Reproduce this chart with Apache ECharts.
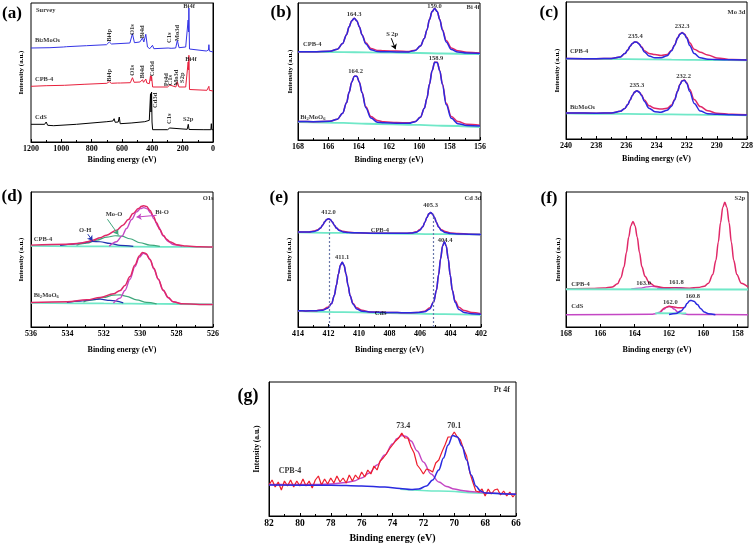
<!DOCTYPE html>
<html><head><meta charset="utf-8">
<script src="https://cdn.jsdelivr.net/npm/echarts@6/dist/echarts.min.js"></script>
<style>html,body{margin:0;padding:0;background:#fff}#c{width:756px;height:545px}</style>
</head><body><div id="c"></div>
<script>
// ---------- (a) Survey ----------
const aBiX = [1200,1075,987,976,965,834,702,684,669,548,531,518,483,465,456,443,432,417,399,390,296,285,276,246,235,224,180,172,164,161,159,155,150,44,30,27,24,0];
const aBiY = [94,94.3,95,96.7,95.3,96.3,97.3,100,98,99,108.3,99.3,100,104,100,107.7,95,93.3,96.7,93.3,94,95.7,93.7,94,101.7,94.3,95,95.5,122,110,134,93,92.3,91,92,97.3,91,90];
const aCpbX = [1200,1100,980,976,970,850,700,684,670,630,618,610,545,531,520,480,465,458,443,436,420,412,408,405,398,300,285,275,245,235,225,180,172,164,161,159,155,150,40,30,27,24,0];
const aCpbY = [55.7,56.3,56.7,57.7,56.7,57.7,58.7,60.3,58.7,59,60.7,59,59.3,64.3,59.7,60,62.3,59.7,63,59,58.3,66.3,61,65.7,55,55,57,55,55,60.3,55,55,56,80,72,86.7,52.5,52.3,51.7,52.5,55.7,51.7,51];
const aCdsX = [1200,1110,1100,1090,1050,900,700,660,652,645,625,618,612,540,450,420,412,409,405,402,398,300,285,275,170,163,158,60,14,11,8,0];
const aCdsY = [17.7,17.7,20,16.7,16.3,17.7,20.3,21,23.3,19.7,20,25,18.3,19,20.3,21.7,48.3,30,50,20,12.3,12.3,14,12.3,12.7,17.7,12.5,12.3,12.3,18.3,12.3,12.3];
const aLabels = [
 [1167,132,'Survey','l',0],[1174,102,'Bi{s|2}MoO{s|6}','l',0],[1174,63,'CPB-4','l',0],[1174,24.7,'CdS','l',0],
 [684,106.7,'Bi4p','c',90],[531,112.3,'O1s','c',90],[465,110,'Bi4d','c',90],[290,104.3,'C1s','c',90],[237,109,'Mo3d','c',90],[158,136,'Bi4f','c',0],
 [684,66.7,'Bi4p','c',90],[531,71.7,'O1s','c',90],[465,70,'Bi4d','c',90],[399,73.3,'Cd3d','c',90],[311,62.3,'Pt4d','c',90],[283,61.7,'C1s','c',90],[239,64.3,'Mo3d','c',90],[202,64.3,'S2p','c',90],[145,83,'Bi4f','c',0],
 [380,41.7,'Cd3d','c',90],[290,23.3,'C1s','c',90],[164,22.7,'S2p','c',0]
];

// ---------- (b) Bi 4f ----------
const bX = [168,167,165.9,165.4,165.06,164.8,164.63,164.46,164.29,164.12,163.95,163.78,163.53,163.19,162.76,162.34,161.5,160.69,160.27,159.93,159.67,159.5,159.33,159.16,158.99,158.82,158.65,158.48,158.23,157.89,157.46,156.87,156];
const bCpbFit = [88.5,88.5,89.0,91.0,96.7,105.6,113.4,119.6,122.0,119.5,113.3,105.3,96.4,90.5,88.6,88.4,88.3,88.3,89.8,94.2,101.8,110.3,120.7,128.7,131.8,128.7,120.5,110.1,98.3,90.6,88.1,87.1,86.8];
const bCpbRaw = [88.5,88.5,89.0,91.0,96.7,105.6,113.4,119.6,122.0,119.5,113.3,105.5,97.5,91.8,89.8,89.4,89.2,88.8,89.9,94.2,101.8,110.3,120.7,128.7,131.8,128.8,120.8,110.8,99.8,92.3,89.5,88.0,87.3];
const bBiFit = [18.5,18.4,18.7,20.9,26.8,37.3,47.8,57.9,64.0,63.9,57.7,47.4,32.3,22.0,17.9,17.2,16.9,16.8,18.4,22.7,31.7,41.9,56.0,69.4,77.8,77.7,69.2,55.6,35.5,21.7,16.4,14.6,14.0];
const bBiRaw = [18.5,18.4,18.7,20.9,26.8,37.3,47.8,57.9,64.0,63.9,57.8,47.8,33.3,23.5,19.5,18.2,17.6,17.2,18.6,22.8,31.7,41.9,56.0,69.4,77.8,77.8,69.5,56.4,37.0,23.5,18.5,15.8,14.8];
const bCyanX = [168,165,163.5,160,158.5,156];
const bCpbCyan = [88.4,88.1,87.8,87.2,86.7,86.0];
const bBiCyan = [18.0,17.2,16.3,15.2,14.3,13.0];
const bLabels = [
 [164.3,126,'164.3','c',0],[159.0,134,'159.0','c',0],[156.45,133.3,'Bi 4f','c',0],[161.79,105.7,'S 2p','c',0],
 [167.67,95.7,'CPB-4','l',0],[164.2,68.7,'164.2','c',0],[158.9,81.7,'158.9','c',0],[167.85,22.7,'Bi{s|2}MoO{s|6}','l',0]
];
const bArrows = [[161.85,102,161.57,91,'#000']];

// ---------- (c) Mo 3d ----------
const cX = [240,238,237,236.4,236.1,235.9,235.75,235.6,235.45,235.3,235.15,235.0,234.8,234.5,234.1,233.7,233.3,233.0,232.8,232.6,232.45,232.3,232.15,232.0,231.8,231.5,231.1,230.6,230,229,228];
const cCpbFit = [80.6,80.5,80.7,82.3,85.6,89.2,92.9,95.7,97.3,97.0,95.1,91.9,87.3,83.3,81.4,81.4,83.4,88.4,94.0,101.2,105.0,106.5,104.9,101.1,93.8,85.6,81.4,80.0,79.6,79.3,79.1];
const cCpbRaw = [80.6,80.5,80.7,82.3,85.6,89.2,92.9,95.7,97.3,97.0,95.3,92.5,88.5,85.8,84.6,83.6,84.6,89.0,94.3,101.4,105.2,106.7,105.3,102.0,96.5,90.0,87.0,84.3,81.3,79.6,79.2];
const cBiFit = [26.1,25.9,26.1,27.7,30.65,34.7,39.0,43.6,47.0,48.4,47.0,43.9,37.6,30.9,27.4,26.9,28.7,32.9,39.0,47.9,54.4,58.2,58.9,55.8,47.7,35.6,28.0,25.4,24.8,24.4,24.1];
const cBiRaw = [26.1,25.9,26.1,27.7,30.65,34.7,39.0,43.6,47.0,48.4,47.1,44.4,39.0,33.3,30.8,30.0,30.8,34.0,39.6,48.2,54.6,58.4,59.1,56.4,49.5,39.5,32.5,28.3,25.8,24.7,24.2];
const cCyanX = [240,236,233,230,228];
const cCpbCyan = [80.4,80.0,79.6,79.1,78.9];
const cBiCyan = [25.8,25.1,24.6,24.1,23.8];
const cLabels = [
 [235.4,102.7,'235.4','c',0],[232.3,112.7,'232.3','c',0],[228.7,126.7,'Mo 3d','c',0],[239.74,87.7,'CPB-4','l',0],
 [235.3,53.3,'235.3','c',0],[232.2,63.3,'232.2','c',0],[239.74,32,'Bi{s|2}MoO{s|6}','l',0]
];

// ---------- (d) O1s ----------
const dCpbRedX = [536,534,533.3,532.9,532.6,532.2,531.85,531.3,530.95,530.65,530.4,530.1,529.92,529.8,529.65,529.47,529.28,529.1,528.92,528.74,528.55,528.37,528,527.45,526.75,526];
const dCpbRedY = [82.3,83.3,84.3,85.7,87.3,89.7,92.3,97.3,102.3,108,114,119,121.3,122,121,117.3,111.7,104.7,98,92.3,88.3,85.7,82.7,81.3,80.7,80.3];
const dCpbBiOX = [531.7,531.3,531.0,530.75,530.47,530.2,529.98,529.8,529.61,529.43,529.25,529.0,528.74,528.46,528.19,527.7];
const dCpbBiOY = [81.3,85.7,91.3,99,108,115.7,119,120,118.7,114.7,108.7,100.7,91.7,86,83,81.3];
const dCpbMoX = [533.5,532.93,532.39,531.84,531.38,531.02,530.56,530.01,529.47,528.92];
const dCpbMoY = [82.3,84.3,87.3,90.3,91.7,91.3,88.7,84.7,82.3,81];
const dCpbOhX = [534.4,533.66,533.12,532.66,532.2,531.66,531.1,530.38];
const dCpbOhY = [82,83.3,84.7,86,85.7,84,82,81];
const dCyanX = [536,532,529,526];
const dCpbCyan = [81.5,81.0,80.6,80.2];
const dBiRedX = [536,534,532.93,532.2,531.47,531.1,530.84,530.56,530.29,530.05,529.87,529.69,529.47,529.25,529.01,528.74,528.46,528.19,527.73,526.73,526];
const dBiRedY = [24.7,25.3,27.3,29.7,33.3,36.7,41.7,50.7,62.3,71.3,75,74,68,59,48.3,37.3,29.7,25.3,23.3,22.7,22.7];
const dBiBiOX = [531.47,531.1,530.84,530.56,530.29,530.05,529.83,529.65,529.43,529.25,529.01,528.74,528.46,528.19,527.73];
const dBiBiOY = [24,29,36.7,48,60.7,70,74,73,66.7,58.3,48,36.7,29.3,25.3,23.3];
const dBiMoX = [533.12,532.57,532.02,531.47,531.1,530.74,530.2,529.65,529.1];
const dBiMoY = [25.3,27.3,29.7,32,32.3,30.7,27.3,24.7,23.3];
const dBiOhX = [534.03,533.3,532.75,532.2,531.66,530.93];
const dBiOhY = [24.7,26,27.3,28,26.7,24.3];
const dBiCyan = [24.2,23.7,23.2,22.8];
const dLabels = [
 [526.27,129.7,'O1s','c',0],[528.8,115,'Bi-O','c',0],[531.44,113,'Mo-O','c',0],[533.03,97.3,'O-H','c',0],
 [535.85,88.3,'CPB-4','l',0],[535.85,31.7,'Bi{s|2}MoO{s|6}','l',0]
];
const dArrows = [[529.1,112.3,530.2,110.5,'#c447c4'],[531.8,108.3,531.2,92.8,'#3fa77c'],[532.88,93.3,532.62,86.7,'#2233b0']];

// ---------- (e) Cd 3d ----------
const eCpbX = [414,413.8,413.3,412.95,412.7,412.52,412.38,412.25,412.12,412.0,411.88,411.75,411.62,411.48,411.3,411.05,410.7,410.2,409,408,407.5,407.1,406.6,406.25,406.0,405.82,405.68,405.55,405.42,405.3,405.18,405.05,404.92,404.78,404.6,404.35,404.0,403.5,402.8,402];
const eCpbFit = [95.4,95.4,95.45,95.95,97.3,99.55,102.5,105.7,108.1,108.9,108.05,105.6,102.4,99.4,97.0,95.6,94.95,94.7,94.35,94.2,94.2,94.2,94.4,95.2,97.3,100.8,105.3,110.0,113.75,115.0,113.7,110.0,105.1,100.6,97.0,94.9,93.9,93.6,93.3,93.1];
const eCpbRaw = [95.4,95.4,95.45,96.45,97.8,99.55,102.5,105.7,108.1,108.9,108.05,105.6,102.4,99.4,97.5,96.2,95.35,94.7,94.35,94.2,94.2,94.2,94.4,95.7,97.9,100.8,105.3,110.0,113.75,115.0,113.7,110.0,105.1,100.6,97.8,95.9,94.6,94.0,93.3,93.1];
const eCdsX = [414,413.5,412.9,412.4,412.05,411.8,411.62,411.48,411.35,411.22,411.1,410.98,410.85,410.72,410.58,410.4,410.15,409.8,409.3,408,407,406.2,405.7,405.35,405.1,404.92,404.78,404.65,404.52,404.4,404.28,404.15,404.02,403.88,403.7,403.45,403.1,402.6,402];
const eCdsFit = [16.25,16.2,16.26,16.75,18.74,23.5,31.7,42.1,53.4,62.0,65.0,61.95,53.2,41.9,31.4,23.1,18.1,15.95,15.1,14.7,14.35,14.5,15.25,18.2,25.3,37.2,52.4,68.7,81.4,85.75,81.3,68.6,52.2,36.9,24.8,17.6,14.5,13.4,12.8];
const eCdsRaw = [16.25,16.2,16.26,17.35,19.74,23.5,31.7,42.1,53.4,62.0,65.0,61.95,53.2,41.9,31.4,23.9,19.3,16.75,15.1,14.7,14.35,14.5,15.95,19.4,25.3,37.2,52.4,68.7,81.4,85.75,81.3,68.6,52.2,36.9,26.3,19.8,16.5,14.6,13.4];
const eCyanX = [414,411,408,404.4,402];
const eCpbCyan = [95.2,94.6,94.0,93.4,93.0];
const eCdsCyan = [16.0,15.0,14.0,13.0,12.3];
const eLabels = [
 [412.0,115.7,'412.0','c',0],[405.3,122.3,'405.3','c',0],[402.53,129.7,'Cd 3d','c',0],[408.63,97.3,'CPB-4','c',0],
 [411.1,70,'411.1','c',0],[404.35,87.3,'404.4','c',0],[408.58,14,'CdS','c',0]
];
const eDash = [[411.92,107.5],[405.15,113.5]];

// ---------- (f) S2p ----------
const fCpbX = [168,166.5,165.8,165.3,165.0,164.8,164.62,164.48,164.35,164.22,164.1,163.98,163.85,163.72,163.58,163.4,163.15,162.8,162.3,161.5,160.8,160.3,159.95,159.7,159.45,159.27,159.13,159.0,158.87,158.75,158.63,158.5,158.37,158.23,158.05,157.8,157.4];
const fCpbMain = [38.5,38.8,39.25,40.3,43.4,49.5,60.6,74.9,90.1,101.9,106.0,101.9,90.1,74.9,60.6,51.0,44.5,41.0,39.5,39.2,39.0,39.8,40.9,44.1,52.7,67.0,85.3,104.9,120.1,125.3,120.1,104.9,85.3,67.0,52.7,44.1,40.3];
const fSmallMagX = [164.2,163.7,163.3,163.0,162.7,162.3,161.9];
const fSmallMagY = [38.2,39.0,40.3,40.8,40.3,39.0,38.2];
const fSmallBlueX = [162.7,162.2,161.9,161.6,161.3,161.0,160.5];
const fSmallBlueY = [38.0,38.6,39.2,39.5,39.2,38.5,38.0];
const fCpbCyanX = [168,157.4];
const fCpbCyan = [37.9,37.7];
const fCdsMagX = [168,163,162.8,162.5,162.3,162.15,162.0,161.85,161.7,161.5,161.2,160.8,157.4];
const fCdsMagY = [12.3,12.8,13.2,15.2,18.0,19.9,20.7,19.9,18.0,15.2,13.2,12.6,12.3];
const fCdsRedX = [162.5,162.2,162.0,161.8,161.5,161.25,161.1];
const fCdsRedY = [15.5,19.5,20.9,20.3,19.4,19.3,19.6];
const fCdsBlueX = [162.0,161.6,161.3,161.1,160.95,160.8,160.7,160.55,160.35,160.15,159.95,159.7,159.3];
const fCdsBlueY = [12.5,13.5,16.0,19.5,23.5,26.4,26.7,25.8,22.5,18.3,15.0,13.2,12.4];
const fCdsCyanX = [162.8,161.0];
const fCdsCyan = [13.8,13.6];
const fTicks = [158,160,162,164,166,168];
const fLabels = [
 [157.88,129,'S2p','c',0],[163.48,44,'163.0','c',0],[161.57,44.7,'161.8','c',0],[167.69,43,'CPB-4','l',0],
 [161.92,24.7,'162.0','c',0],[160.62,30.7,'160.8','c',0],[167.69,20.7,'CdS','l',0]
];

// ---------- (g) Pt 4f ----------
const gX = [82,81.8,81.6,81.4,81.2,81,80.8,80.6,80.4,80.2,80,79.8,79.6,79.4,79.2,79,78.8,78.6,78.4,78.2,78,77.8,77.6,77.4,77.2,77,76.8,76.6,76.4,76.2,76,75.8,75.6,75.4,75.2,75,74.8,74.6,74.4,74.2,74,73.8,73.6,73.4,73.2,73,72.8,72.6,72.4,72.2,72,71.8,71.6,71.4,71.2,71,70.8,70.6,70.4,70.2,70,69.8,69.6,69.4,69.2,69,68.8,68.6,68.4,68.2,68,67.8,67.6,67.4,67.2,67,66.8,66.6,66.4,66.2,66];
const gRaw = [31,36,29,34,26,35,30,36,29,35,30,37,30,35,28,36,40,31,37,32,38,33,40,34,38,33,41,35,41,37,44,39,46,42,50,46,55,58,62,67,71,75,78,83,78,78,69,63,51,47,42,47,46,44,53,56,64,71,79,79,84,79,76,67,60,44,34,25,24,27,20,27,22,26,27,21,25,20,24,19,23];
const gMagX = [82,79,78,77,76.5,76,75.5,75,74.5,74,73.7,73.4,73.1,72.8,72.4,72,71.5,71,70.5,70,69.5,69,68,67,66];
const gMagY = [31.5,31.5,32,33.5,35,38,43,51,61,72,77.5,80.5,79.5,75,65,54,42,34,29.5,27,25.5,24.5,23.2,22.5,21.8];
const gBlueX = [82,78,76,74.5,73.5,72.8,72.3,71.8,71.4,71.0,70.7,70.4,70.1,69.8,69.5,69.2,68.9,68.6,68.3,68,67,66];
const gBlueY = [31,30.8,30,29,27.5,26.5,27,30,36,46,58,71,80.5,79,70,56,41,30,25,23,22.3,21.7];
const gCyanX = [73.5,71,68,66];
const gCyanY = [26.8,25.0,22.8,21.5];
const gLabels = [[66.92,125.7,'Pt 4f','c',0],[73.3,89.7,'73.4','c',0],[70.0,90,'70.1','c',0],[80.64,44.7,'CPB-4','c',0]];

// ---------- layout / style ----------
const FF = 'Liberation Serif';
const COL = {blue:'#2a2ae0', red:'#e6204c', pink:'#e02868', mag:'#c447c4', cyan:'#70e8c8', green:'#3fa77c', navy:'#2233b0', black:'#111111'};
const panels = [
 {left:31, top:3, width:182, height:139, ymax:139, min:0, max:1200, interval:200, xGap:14, yGap:6, tick:8, nameSize:8},
 {left:298, top:3, width:182, height:137, ymax:137.3, min:156, max:168, interval:2, xGap:16, yGap:4.5, tick:8, nameSize:8},
 {left:566, top:2, width:182, height:137, ymax:137.3, min:228, max:240, interval:2, xGap:16, yGap:5.5, tick:8, nameSize:8},
 {left:31, top:192, width:182, height:135, ymax:135.7, min:526, max:536, interval:2, xGap:19, yGap:6.5, tick:8, nameSize:8},
 {left:298, top:192, width:183, height:135, ymax:135.7, min:402, max:414, interval:2, xGap:19, yGap:5.5, tick:8, nameSize:8},
 {left:566, top:192, width:182, height:135, ymax:135.7, min:157.4, max:168, custom:fTicks, xGap:19, yGap:4.5, tick:8, nameSize:8},
 {left:269, top:382, width:247, height:134, ymax:134, min:66, max:82, interval:2, xGap:17, yGap:8, tick:9.5, nameSize:10}
];
const letters = [['(a)',12,14,17],['(b)',281,13,17],['(c)',549,13,17],['(d)',12,197,17],['(e)',279,198,17],['(f)',549,199,17],['(g)',248,396,18]];

const zip = (xs, ys) => xs.map((x, i) => [x, ys[i]]);
function ln(p, xs, ys, color, w, smooth, z, extra) {
  return Object.assign({
    type:'line', xAxisIndex:p, yAxisIndex:p, data: zip(xs, ys), symbol:'none', showSymbol:false,
    smooth: smooth ? 0.35 : false, smoothMonotone: smooth ? 'x' : undefined,
    lineStyle:{color, width:w}, silent:true, z: z || 2, animation:false
  }, extra || {});
}
function labels(p, arr, size) {
  return {
    type:'scatter', xAxisIndex:p, yAxisIndex:p, symbolSize:0, silent:true, z:30, animation:false, clip:false,
    data: arr.map(a => ({value:[a[0], a[1]], name:a[2], label:{align: a[3] === 'l' ? 'left' : 'center', rotate: a[4]}})),
    label:{show:true, position:'inside', formatter: q => q.name, fontFamily:FF, fontWeight:'bold', fontSize:size, color:'#000',
      rich:{s:{fontFamily:FF, fontWeight:'bold', fontSize:size*0.7, verticalAlign:'bottom', lineHeight:size*1.1, color:'#000'}}}
  };
}
function arrowML(arr) {
  return {silent:true, animation:false, symbol:['none','arrow'], symbolSize:5, label:{show:false},
    data: arr.map(a => [{coord:[a[0], a[1]], lineStyle:{color:a[4], width:1, type:'solid'}}, {coord:[a[2], a[3]]}])};
}

const grid = panels.map(p => ({left:p.left, top:p.top, width:p.width, height:p.height, show:true, borderColor:'#000', borderWidth:1, containLabel:false}));
const xAxis = panels.map((p, i) => {
  const ax = {
    type:'value', gridIndex:i, min:p.min, max:p.max, inverse:true,
    name:'Binding energy (eV)', nameLocation:'middle', nameGap:p.xGap,
    nameTextStyle:{fontFamily:FF, fontWeight:'bold', fontSize:p.nameSize, color:'#000'},
    axisLine:{show:true, lineStyle:{color:'#000', width:1}},
    axisTick:{show:true, inside:true, length:3, lineStyle:{color:'#000'}},
    minorTick:{show:!p.custom, splitNumber:2, length:2, lineStyle:{color:'#000'}},
    axisLabel:{fontFamily:FF, fontWeight:'bold', fontSize:p.tick, color:'#000', margin:2.5, showMinLabel:true, showMaxLabel:true,
      formatter: v => String(v)},
    splitLine:{show:false}
  };
  if (p.custom) { ax.axisLabel.customValues = p.custom; ax.axisTick.customValues = p.custom; }
  else { ax.interval = p.interval; }
  return ax;
});
const yAxis = panels.map((p, i) => ({
  type:'value', gridIndex:i, min:0, max:p.ymax, name:'Intensity (a.u.)', nameLocation:'middle', nameGap:p.yGap, nameRotate:90,
  nameTextStyle:{fontFamily:FF, fontWeight:'bold', fontSize: i === 6 ? 7.5 : 7, color:'#000'},
  axisLine:{show:true, lineStyle:{color:'#000'}}, axisTick:{show:false}, axisLabel:{show:false}, splitLine:{show:false}
}));

const series = [
  // (a)
  ln(0, aBiX, aBiY, '#3434e6', 1, false),
  ln(0, aCpbX, aCpbY, '#e8203c', 1, false),
  ln(0, aCdsX, aCdsY, '#000', 1, false),
  labels(0, aLabels, 6.5),
  // (b)
  ln(1, bCyanX, bCpbCyan, COL.cyan, 1.8, true, 1),
  ln(1, bCyanX, bBiCyan, COL.cyan, 1.8, true, 1, {markLine: arrowML(bArrows)}),
  ln(1, bX, bCpbRaw, COL.pink, 1.5, true, 2),
  ln(1, bX, bBiRaw, COL.pink, 1.5, true, 2),
  ln(1, bX, bCpbFit, COL.blue, 1.5, true, 3),
  ln(1, bX, bBiFit, COL.blue, 1.5, true, 3),
  labels(1, bLabels, 6.5),
  // (c)
  ln(2, cCyanX, cCpbCyan, COL.cyan, 1.8, true, 1),
  ln(2, cCyanX, cBiCyan, COL.cyan, 1.8, true, 1),
  ln(2, cX, cCpbRaw, COL.pink, 1.5, true, 2),
  ln(2, cX, cBiRaw, COL.pink, 1.5, true, 2),
  ln(2, cX, cCpbFit, COL.blue, 1.5, true, 3),
  ln(2, cX, cBiFit, COL.blue, 1.5, true, 3),
  labels(2, cLabels, 6.5),
  // (d)
  ln(3, dCyanX, dCpbCyan, COL.cyan, 1.8, true, 1, {markLine: arrowML(dArrows)}),
  ln(3, dCyanX, dBiCyan, COL.cyan, 1.8, true, 1),
  ln(3, dCpbMoX, dCpbMoY, COL.green, 1.2, true, 2),
  ln(3, dBiMoX, dBiMoY, COL.green, 1.2, true, 2),
  ln(3, dCpbOhX, dCpbOhY, COL.navy, 1.2, true, 2),
  ln(3, dBiOhX, dBiOhY, COL.navy, 1.2, true, 2),
  ln(3, dCpbBiOX, dCpbBiOY, COL.mag, 1.4, true, 3),
  ln(3, dBiBiOX, dBiBiOY, COL.mag, 1.4, true, 3),
  ln(3, dCpbRedX, dCpbRedY, COL.pink, 1.5, true, 4),
  ln(3, dBiRedX, dBiRedY, COL.pink, 1.5, true, 4),
  labels(3, dLabels, 6.5),
  // (e)
  ln(4, eCyanX, eCpbCyan, COL.cyan, 1.8, true, 1, {markLine:{silent:true, animation:false, symbol:['none','none'], label:{show:false},
     lineStyle:{color:'#6a78aa', width:1.2, type:[2,2]},
     data: eDash.map(d => [{coord:[d[0], 0]}, {coord:[d[0], d[1]]}])}}),
  ln(4, eCyanX, eCdsCyan, COL.cyan, 1.8, true, 1),
  ln(4, eCpbX, eCpbRaw, COL.pink, 1.5, true, 2),
  ln(4, eCdsX, eCdsRaw, COL.pink, 1.5, true, 2),
  ln(4, eCpbX, eCpbFit, COL.blue, 1.5, true, 3),
  ln(4, eCdsX, eCdsFit, COL.blue, 1.5, true, 3),
  labels(4, eLabels, 6.5),
  // (f)
  ln(5, fCdsMagX, fCdsMagY, COL.mag, 1.5, true, 1),
  ln(5, fCdsCyanX, fCdsCyan, COL.cyan, 1.8, false, 1),
  ln(5, fCdsRedX, fCdsRedY, COL.pink, 1.4, true, 2),
  ln(5, fCdsBlueX, fCdsBlueY, COL.blue, 1.5, true, 3),
  ln(5, fSmallMagX, fSmallMagY, COL.mag, 1.3, true, 2),
  ln(5, fSmallBlueX, fSmallBlueY, COL.blue, 1.3, true, 2),
  ln(5, fCpbX, fCpbMain, COL.pink, 1.5, true, 3),
  ln(5, fCpbCyanX, fCpbCyan, COL.cyan, 2, false, 4),
  labels(5, fLabels, 6.5),
  // (g)
  ln(6, gCyanX, gCyanY, COL.cyan, 1.6, true, 1),
  ln(6, gMagX, gMagY, COL.mag, 1.4, true, 2),
  ln(6, gX, gRaw, '#ee1c2c', 1.2, false, 3),
  ln(6, gBlueX, gBlueY, COL.blue, 1.5, true, 4),
  labels(6, gLabels, 8)
];

const chart = echarts.init(document.getElementById('c'), null, {renderer:'canvas'});
chart.setOption({
  animation:false,
  backgroundColor:'#fff',
  grid, xAxis, yAxis, series,
  graphic: letters.map(l => ({type:'text', x:l[1], y:l[2], silent:true,
    style:{text:l[0], font:'bold ' + l[3] + 'px "Liberation Serif"', fill:'#000', align:'center', verticalAlign:'middle'}}))
});
</script></body></html>
